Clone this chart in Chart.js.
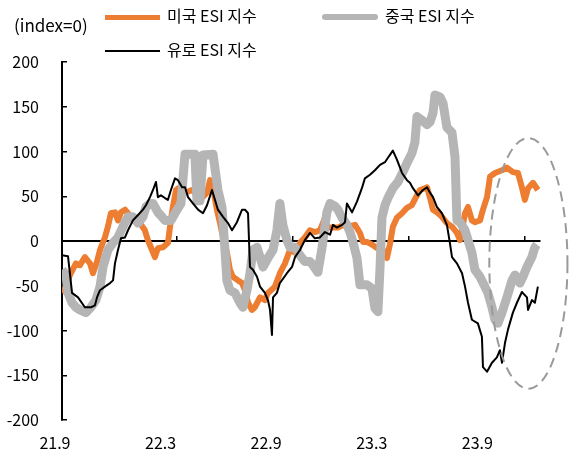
<!DOCTYPE html>
<html>
<head>
<meta charset="utf-8">
<script src="https://cdn.jsdelivr.net/npm/chart.js@4.4.0/dist/chart.umd.min.js"></script>
<style>
  html, body { margin: 0; padding: 0; background: #fff; }
  #wrap { position: relative; width: 576px; height: 464px; font-family: "Noto Sans CJK KR", "Noto Sans", sans-serif; }
  #chart { position: absolute; left: 0; top: 0; }
  .lg { position: absolute; font-size: 16px; line-height: 16px; color: #000; white-space: nowrap; }
  .sw { position: absolute; }
</style>
</head>
<body>
<div id="wrap">
  <canvas id="chart" width="576" height="464"></canvas>
  <div class="lg" style="left:14px;top:17px;font-size:17px">(index=0)</div>
  <div class="sw" style="left:105px;top:15px;width:55px;height:5px;background:#ED7D31"></div>
  <div class="lg" style="left:167px;top:7px">미국 ESI 지수</div>
  <div class="sw" style="left:322px;top:14px;width:56px;height:6px;border-radius:3px;background:#B5B5B5"></div>
  <div class="lg" style="left:385px;top:7px">중국 ESI 지수</div>
  <div class="sw" style="left:105px;top:50px;width:55px;height:2px;background:#000"></div>
  <div class="lg" style="left:167px;top:41px">유로 ESI 지수</div>
</div>
<script>
// x values are months counted from 21.9 (Sep 2021)
const xTickPos = [0, 6, 12, 18, 24];
const xTickLabels = ["21.9", "22.3", "22.9", "23.3", "23.9"];
const zeroLineTicks = [6.9, 13.5, 20.1, 26.7];

// 미국 ESI 지수
const usMonths = [0.40,0.63,0.85,1.19,1.42,1.70,1.99,2.16,2.39,2.56,
  2.84,3.01,3.18,3.41,3.58,3.75,3.98,4.15,4.43,4.83,
  5.11,5.28,5.45,5.68,5.85,6.14,6.42,6.53,6.70,6.88,
  7.10,7.39,7.78,7.95,8.24,8.64,8.81,8.98,9.20,9.38,
  9.55,9.77,9.94,10.11,10.40,10.63,10.80,10.97,11.19,11.36,
  11.65,11.93,12.10,12.50,12.78,13.07,13.35,13.64,13.92,14.20,
  14.49,14.77,15.06,15.34,15.51,15.80,16.08,16.36,16.65,17.05,
  17.33,17.50,17.73,18.01,18.30,18.58,18.86,19.03,19.20,19.43,
  19.72,20.00,20.28,20.57,20.74,21.02,21.14,21.31,21.48,21.70,
  21.99,22.27,22.56,22.84,23.01,23.18,23.30,23.47,23.69,23.86,
  24.15,24.32,24.55,24.72,25.00,25.40,25.68,26.02,26.31,26.53,
  26.70,26.88,27.16,27.44];
const usEsi = [-58,-51,-38,-25,-27,-18,-25,-36,-23,-10,
  4,16,31,32,23,32,35,31,23,20,
  12,1,-7,-18,-8,-7,-2,15,38,57,
  60,54,57,54,46,54,68,60,35,20,
  4,-13,-32,-40,-44,-47,-55,-69,-77,-74,
  -63,-66,-58,-51,-36,-25,-10,-13,-2,4,
  12,10,12,26,15,15,15,18,16,18,
  9,-1,-1,-4,-8,-8,-19,-4,16,26,
  31,37,40,51,57,59,60,48,35,32,
  27,20,16,9,1,18,31,38,23,21,
  23,35,49,72,76,79,82,77,76,60,
  46,59,65,57];

// 중국 ESI 지수
const cnMonths = [0.40,0.63,0.74,0.97,1.19,1.42,1.76,2.05,2.33,2.56,
  2.73,3.01,3.30,3.58,3.86,4.15,4.43,4.72,5.00,5.17,
  5.40,5.57,5.85,6.08,6.25,6.59,6.82,7.16,7.39,7.95,
  8.07,8.24,8.41,8.98,9.26,9.49,9.66,9.77,9.94,10.23,
  10.51,10.68,10.91,11.08,11.25,11.48,11.65,11.82,12.10,12.39,
  12.61,12.78,12.95,13.18,13.35,13.64,13.92,14.20,14.49,14.66,
  14.94,15.17,15.45,15.63,15.91,16.08,16.31,16.59,16.76,16.93,
  17.16,17.33,17.73,18.01,18.18,18.35,18.47,18.58,18.75,18.92,
  19.20,19.49,19.77,20.00,20.28,20.45,20.57,20.85,21.14,21.31,
  21.48,21.59,21.88,22.05,22.27,22.56,22.73,22.84,23.01,23.30,
  23.47,23.69,23.86,24.15,24.43,24.60,24.83,25.00,25.17,25.40,
  25.68,25.97,26.14,26.42,26.59,26.82,27.10,27.27,27.39];
const cnEsi = [-32,-38,-58,-69,-74,-77,-80,-74,-66,-51,
  -29,-10,-2,4,16,27,27,20,27,38,
  42,42,32,27,23,23,31,42,97,97,
  45,45,96,97,57,38,-10,-44,-55,-58,
  -69,-74,-55,-36,-10,-7,-18,-29,-19,-10,
  12,42,18,1,-7,-7,-16,-23,-23,-27,
  -35,-8,32,42,39,35,26,18,10,-1,
  -19,-49,-49,-53,-75,-79,-30,26,40,48,
  59,66,77,87,98,110,139,135,130,133,
  143,163,161,154,127,121,94,23,21,12,
  1,-13,-32,-40,-51,-58,-74,-88,-92,-80,
  -63,-44,-38,-47,-40,-29,-18,-7,-4];

// 유로 ESI 지수
const euMonths = [0.40,0.74,0.97,1.31,1.70,2.05,2.27,2.39,2.56,2.84,
  3.13,3.30,3.41,3.58,3.75,3.98,4.15,4.43,4.72,5.00,
  5.17,5.40,5.57,5.74,5.85,6.02,6.25,6.42,6.59,6.82,
  6.99,7.22,7.39,7.56,7.84,8.13,8.41,8.64,8.92,9.09,
  9.26,9.55,9.83,10.06,10.34,10.63,10.80,10.97,11.08,11.25,
  11.48,11.65,11.93,12.10,12.22,12.33,12.39,12.61,12.78,13.18,
  13.47,13.64,13.92,14.20,14.49,14.77,15.06,15.34,15.63,15.80,
  16.02,16.31,16.48,16.59,16.88,17.16,17.44,17.61,17.90,18.18,
  18.47,18.75,18.92,19.20,19.43,19.72,20.00,20.17,20.34,20.63,
  20.91,21.14,21.31,21.48,21.70,21.99,22.16,22.27,22.44,22.56,
  22.84,23.13,23.30,23.47,23.69,24.03,24.26,24.32,24.55,24.83,
  25.11,25.28,25.40,25.57,25.74,26.02,26.25,26.53,26.82,26.88,
  27.10,27.27,27.44];
const euEsi = [-16,-17,-58,-63,-74,-74,-72,-63,-55,-51,
  -47,-44,-25,-10,3,4,12,23,29,35,
  40,49,57,66,49,51,48,46,57,70,
  68,60,60,49,42,35,31,40,57,46,
  35,27,20,12,21,35,35,31,-29,-32,
  -40,-51,-58,-66,-77,-105,-63,-58,-47,-36,
  -29,-18,-10,1,9,3,4,10,7,18,
  15,18,21,42,32,44,59,70,74,79,
  85,88,93,101,91,76,68,65,59,51,
  57,60,54,49,38,31,23,18,-2,-18,
  -25,-36,-51,-69,-88,-92,-107,-141,-146,-136,
  -130,-122,-136,-114,-99,-80,-69,-57,-63,-77,
  -66,-69,-51];

// dashed ellipse round the latest months (data units)
const highlight = { month: 26.9, value: -25, rxMonths: 2.22, ryValue: 140 };

const X_MIN = 0.4;
const X_MAX = 27.56;

function toPoints(xs, ys) {
  return xs.map((x, i) => ({ x: x, y: ys[i] }));
}

const ellipsePlugin = {
  id: "ellipse",
  afterDraw(chart) {
    const sx = chart.scales.x;
    const sy = chart.scales.y;
    const cx = sx.getPixelForValue(highlight.month);
    const cy = sy.getPixelForValue(highlight.value);
    const rx = sx.getPixelForValue(highlight.month + highlight.rxMonths) - cx;
    const ry = cy - sy.getPixelForValue(highlight.value + highlight.ryValue);
    const c = chart.ctx;
    c.save();
    c.strokeStyle = "#9A9A9A";
    c.lineWidth = 2;
    c.setLineDash([10, 6]);
    c.beginPath();
    c.ellipse(cx, cy, rx, ry, 0, 0, Math.PI * 2);
    c.stroke();
    c.restore();
  }
};

const tickFont = { family: "'Noto Sans CJK KR', 'Noto Sans', sans-serif", size: 16 };

const ctx = document.getElementById("chart");
new Chart(ctx, {
  type: "line",
  data: {
    datasets: [
      {
        label: "유로 ESI 지수",
        data: toPoints(euMonths, euEsi),
        borderColor: "#000000",
        borderWidth: 2,
        order: 1,
      },
      {
        label: "중국 ESI 지수",
        data: toPoints(cnMonths, cnEsi),
        borderColor: "#B5B5B5",
        borderWidth: 9,
        order: 2,
      },
      {
        label: "미국 ESI 지수",
        data: toPoints(usMonths, usEsi),
        borderColor: "#ED7D31",
        borderWidth: 6,
        order: 3,
      },
    ],
  },
  options: {
    responsive: false,
    animation: false,
    layout: { padding: { left: 7, right: 36, top: 62, bottom: 9 } },
    elements: {
      point: { radius: 0 },
      line: { tension: 0, borderJoinStyle: "round", borderCapStyle: "butt" },
    },
    plugins: { legend: { display: false }, tooltip: { enabled: false } },
    scales: {
      x: {
        type: "linear",
        min: X_MIN,
        max: X_MAX,
        afterBuildTicks: (s) => { s.ticks = xTickPos.map((v) => ({ value: v })); },
        afterFit: (s) => { s.height = 35; },
        grid: { display: false },
        border: { display: false },
        ticks: {
          autoSkip: false,
          maxRotation: 0,
          padding: 5,
          color: "#000",
          font: tickFont,
          callback: (v) => xTickLabels[xTickPos.indexOf(v)],
        },
      },
      x2: {
        type: "linear",
        axis: "x",
        position: { y: 0 },
        min: X_MIN,
        max: X_MAX,
        afterBuildTicks: (s) => { s.ticks = zeroLineTicks.map((v) => ({ value: v })); },
        afterFit: (s) => { s.height = 0; },
        ticks: { display: false },
        grid: { drawOnChartArea: false, drawTicks: true, tickLength: -6, tickColor: "#000", lineWidth: 1.5 },
        border: { display: true, color: "#000", width: 2 },
      },
      y: {
        min: -200,
        max: 200,
        afterBuildTicks: (s) => {
          const t = [];
          for (let v = -200; v <= 200; v += 50) t.push({ value: v });
          s.ticks = t;
        },
        afterFit: (s) => { s.width = 55; },
        grid: { drawOnChartArea: false, drawTicks: true, tickLength: -5, tickColor: "#000", lineWidth: 1.5 },
        border: { display: true, color: "#000", width: 2 },
        ticks: {
          padding: 28,
          color: "#000",
          font: tickFont,
        },
      },
    },
  },
  plugins: [ellipsePlugin],
});
</script>
</body>
</html>
